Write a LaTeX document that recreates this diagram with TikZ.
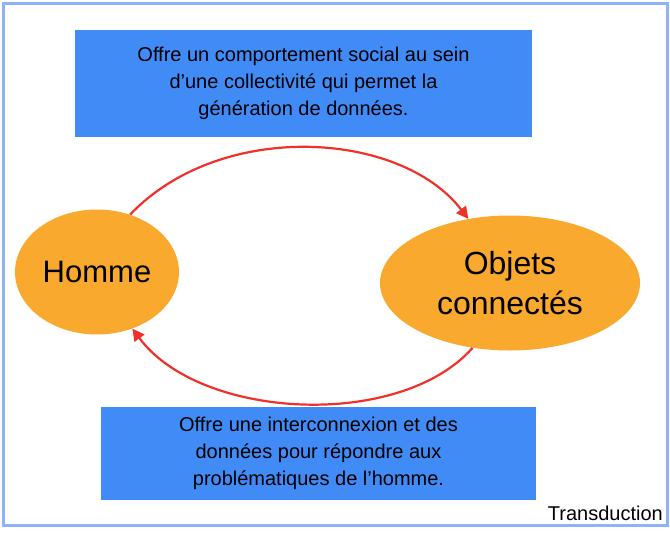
\documentclass[tikz,border=0pt]{standalone}
\usepackage{fontspec}
\setmainfont{Liberation Sans}
\definecolor{bord}{HTML}{8FB4F5}
\definecolor{boxb}{HTML}{418BF7}
\definecolor{orng}{HTML}{F9A92D}
\definecolor{arr}{HTML}{F2302A}
\usetikzlibrary{arrows.meta,shapes.geometric}
\begin{document}
\begin{tikzpicture}[x=1pt,y=-1pt,
  txtbox/.style={fill=boxb,draw=none,inner sep=0pt,align=center,font=\fontsize{20}{27}\selectfont},
  blob/.style={ellipse,fill=orng,draw=none,align=center,inner sep=0pt},
  link/.style={draw=arr,line width=2.2pt,-{Triangle[length=12pt,width=12pt]}}]
\useasboundingbox (0,0) rectangle (670,533);
\draw[bord,line width=3pt] (3,3) rectangle (667,525);
\node[txtbox,minimum width=457pt,minimum height=107pt] (t) at (303.5,83.5) {Offre un comportement social au sein\\d’une collectivité qui permet la\\génération de données.};
\node[txtbox,minimum width=435pt,minimum height=93pt] (b) at (318.5,453.5) {Offre une interconnexion et des\\données pour répondre aux\\problématiques de l’homme.};
\node[blob,minimum width=164pt,minimum height=125pt,font=\fontsize{31}{36}\selectfont] (h) at (97,272) {Homme};
\node[blob,minimum width=260pt,minimum height=135pt,font=\fontsize{32}{40}\selectfont] (o) at (510,283) {Objets\\connectés};
\node[anchor=south east,inner sep=0pt,font=\fontsize{20}{24}\selectfont] (tr) at (663,521) {Transduction};
\draw[link] (h.60) .. controls (220,120) and (400,130) .. (o.123);
\draw[link] (o.-120) .. controls (400,430) and (200,420) .. (h.-58);
\end{tikzpicture}
\end{document}
